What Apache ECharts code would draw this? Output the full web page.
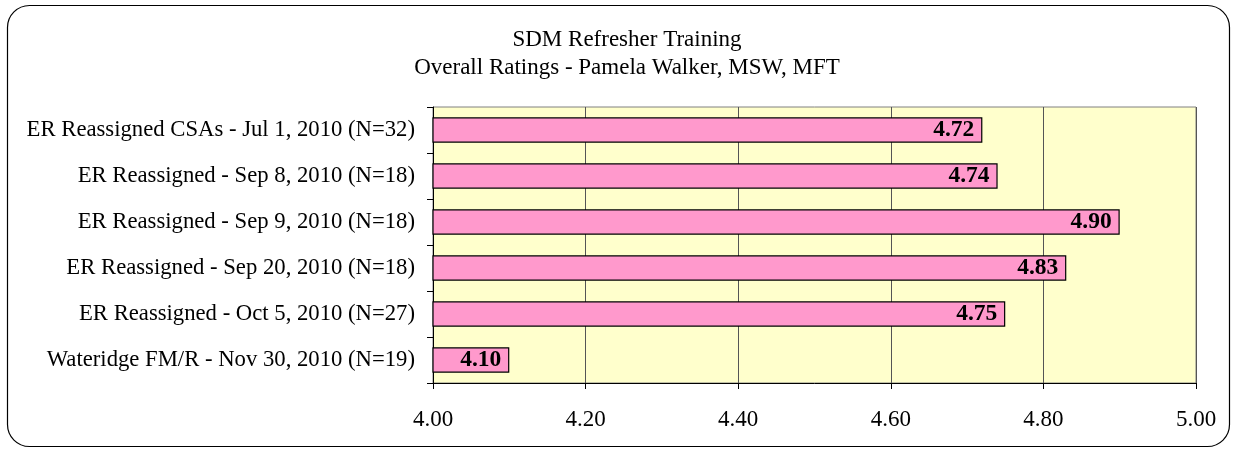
<!DOCTYPE html>
<html><head><meta charset="utf-8">
<script src="https://cdn.jsdelivr.net/npm/echarts@6/dist/echarts.min.js"></script>
<style>html,body{margin:0;padding:0;background:#fff}#c{width:1235px;height:449px}</style>
</head><body><div id="c"></div>
<script>
const categories = [
  "ER Reassigned CSAs - Jul 1, 2010 (N=32)",
  "ER Reassigned - Sep 8, 2010 (N=18)",
  "ER Reassigned - Sep 9, 2010 (N=18)",
  "ER Reassigned - Sep 20, 2010 (N=18)",
  "ER Reassigned - Oct 5, 2010 (N=27)",
  "Wateridge FM/R - Nov 30, 2010 (N=19)"
];
const ratings = [4.72, 4.74, 4.90, 4.83, 4.75, 4.10];
const titleLines = ["SDM Refresher Training", "Overall Ratings - Pamela Walker, MSW, MFT"];
const F = "'Liberation Serif','Times New Roman',serif";
const chart = echarts.init(document.getElementById('c'));
chart.setOption({
  animation: false,
  graphic: [{
    type: 'rect', shape: {x: 7.5, y: 5.5, width: 1222, height: 441, r: 22},
    style: {fill: 'none', stroke: '#000', lineWidth: 1.2}, z: -1
  }],
  title: {
    text: titleLines.join('\n'), left: 622, top: 21, textAlign: 'center',
    textStyle: {fontFamily: F, fontSize: 23, fontWeight: 'normal', color: '#000', lineHeight: 28}
  },
  grid: {left: 433, right: 39, top: 107, bottom: 66, show: true, backgroundColor: '#FFFFCC', borderColor: '#808080', borderWidth: 1},
  xAxis: {
    type: 'value', min: 4, max: 5, interval: 0.2,
    axisLine: {show: true, lineStyle: {color: '#000'}},
    axisTick: {show: true, length: 6, lineStyle: {color: '#000'}},
    axisLabel: {formatter: v => v.toFixed(2), fontFamily: F, fontSize: 23, color: '#000', margin: 25},
    splitLine: {show: true, lineStyle: {color: '#555', width: 1}}
  },
  yAxis: {
    type: 'category', data: categories, inverse: true,
    axisLine: {show: true, lineStyle: {color: '#000'}},
    axisTick: {show: true, length: 6, lineStyle: {color: '#000'}},
    axisLabel: {fontFamily: F, fontSize: 22.7, color: '#000', margin: 18}
  },
  series: [{
    type: 'bar', data: ratings, barCategoryGap: '45%',
    itemStyle: {color: '#FF99CC', borderColor: '#000', borderWidth: 1.2},
    label: {show: true, position: 'insideRight', distance: 8, formatter: p => p.value.toFixed(2),
      fontFamily: F, fontSize: 23.5, fontWeight: 'bold', color: '#000'}
  }]
});
</script></body></html>
